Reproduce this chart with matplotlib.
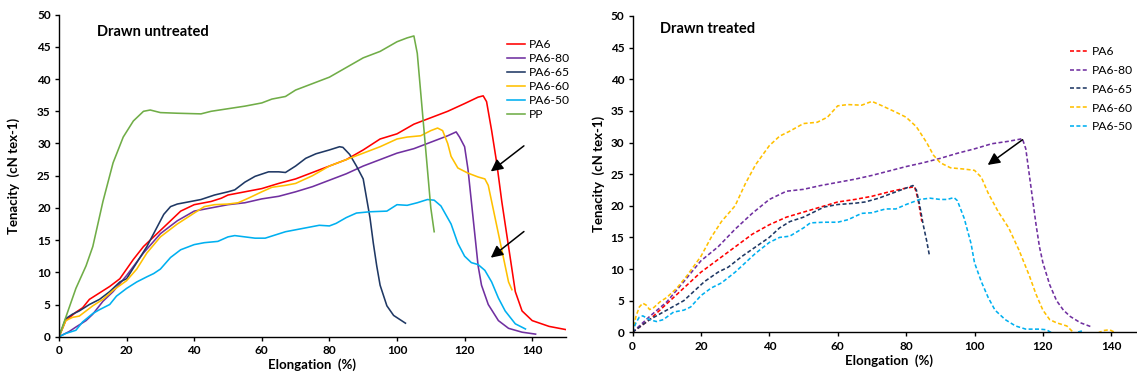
import matplotlib
matplotlib.use('Agg')
import matplotlib.pyplot as plt

plt.rcParams['font.family'] = ['Lato', 'DejaVu Sans']

# ---- Drawn untreated (tenacity vs elongation) ----
pa6_x = [0, 2, 5, 7, 9, 12, 15, 18, 20, 22, 25, 28, 30, 33, 36, 40, 45, 48, 50, 55, 60, 65, 70, 75, 80,
         85, 90, 95, 100, 105, 110, 115, 120, 124, 125.5, 126.5, 128, 129.5, 131, 133, 135, 137, 140, 145, 150]
pa6_y = [0, 2.5, 3.8, 4.5, 5.8, 6.8, 7.8, 9, 10.5, 12, 14, 15.5, 16.5, 18, 19.5, 20.5, 21, 21.5, 22, 22.5, 23,
         23.8, 24.5, 25.5, 26.5, 27.5, 29, 30.7, 31.5, 33, 34, 35, 36.2, 37.2, 37.4, 36.5, 32, 27, 21, 14, 7, 4,
         2.5, 1.6, 1.1]

pa680_x = [0, 3, 5, 8, 10, 13, 16, 20, 25, 30, 35, 40, 45, 50, 55, 60, 65, 70, 75, 80, 85, 90, 95, 100, 105,
           110, 115, 117.5, 118.5, 120, 121, 122, 123, 124, 125, 127, 130, 133, 137, 141]
pa680_y = [0, 0.8, 1.5, 2.5, 3.5, 5.5, 7, 9.5, 13, 16, 18, 19.5, 20, 20.5, 20.8, 21.4, 21.8, 22.5, 23.3, 24.3,
           25.3, 26.5, 27.5, 28.5, 29.2, 30.2, 31.2, 31.8, 31, 29.5, 26, 21, 16, 11, 8, 5, 2.5, 1.3, 0.7, 0.4]

pa665_x = [0, 2, 4, 6, 9, 12, 15, 18, 20, 23, 26, 29, 31, 33, 35, 38, 42, 46, 50, 52, 55, 58, 62, 65, 67, 70,
           73, 76, 80, 83, 84, 86, 88, 90, 91, 92, 93, 94, 95, 97, 99, 102.5]
pa665_y = [0, 2.8, 3.5, 4, 5, 5.8, 7, 8.5, 9, 11.5, 14, 17, 19, 20.2, 20.6, 20.9, 21.3, 22, 22.5, 22.8, 24,
           24.9, 25.6, 25.6, 25.5, 26.5, 27.7, 28.4, 29, 29.5, 29.4, 28.3, 26.5, 24.5, 21.5, 18.5, 14.5, 11, 8,
           4.8, 3.3, 2.1]

pa660_x = [0, 2, 4, 6, 8, 10, 13, 16, 20, 23, 26, 30, 35, 40, 43, 46, 50, 53, 56, 60, 63, 67, 70, 75, 80, 85,
           90, 95, 100, 103, 107, 110, 112, 113.5, 115, 116, 118, 121, 124, 126, 127, 128, 130, 132, 133, 134]
pa660_y = [0, 2.5, 3, 3.2, 4, 4.8, 5.8, 7.2, 8.7, 10.5, 13, 15.5, 17.5, 19.2, 20.2, 20.5, 20.6, 20.8, 21.5,
           22.5, 23.2, 23.5, 23.8, 25, 26.5, 27.5, 28.5, 29.5, 30.7, 31, 31.2, 32, 32.4, 32, 30, 28, 26.2, 25.4,
           24.8, 24.5, 23.5, 21, 16, 11, 8.5, 7.3]

pa650_x = [0, 2, 5, 7, 10, 12, 15, 17, 20, 23, 26, 28, 30, 33, 36, 40, 43, 47, 50, 52, 55, 58, 61, 64, 67, 72,
           77, 80, 82, 85, 88, 92, 97, 100, 103, 106, 109, 111, 113, 116, 118, 120, 122, 124, 126, 128, 130,
           132, 135, 138]
pa650_y = [0, 0.5, 1, 2.3, 3.6, 4.2, 5, 6.3, 7.5, 8.5, 9.3, 9.8, 10.5, 12.3, 13.5, 14.3, 14.6, 14.8, 15.5,
           15.7, 15.5, 15.3, 15.3, 15.8, 16.3, 16.8, 17.3, 17.2, 17.6, 18.5, 19.2, 19.4, 19.5, 20.5, 20.4, 20.8,
           21.3, 21.2, 20.3, 17.5, 14.5, 12.5, 11.5, 11.2, 10.3, 8.5, 6, 4, 2, 1.2]

pp_x = [0, 2, 5, 8, 10, 13, 16, 19, 22, 25, 27, 30, 35, 42, 45, 50, 55, 60, 63, 67, 70, 75, 80, 85, 90, 95,
        100, 103, 105, 106, 107, 108, 109, 110, 111]
pp_y = [0, 3, 7.5, 11, 14, 21, 27, 31, 33.5, 35, 35.2, 34.8, 34.7, 34.6, 35, 35.4, 35.8, 36.3, 36.9, 37.3,
        38.3, 39.3, 40.3, 41.8, 43.3, 44.3, 45.8, 46.4, 46.7, 44, 38, 32, 26, 20, 16.3]

# ---- Drawn treated ----
t_pa6_x = [0, 5, 10, 15, 20, 25, 30, 35, 40, 45, 50, 55, 60, 65, 70, 75, 80, 82.5, 83.5, 84.6]
t_pa6_y = [0, 2, 4.5, 7, 9.5, 11.5, 13.5, 15.5, 17, 18.2, 19, 19.8, 20.6, 21, 21.5, 22.2, 22.8, 23, 21, 17.5]

t_pa680_x = [0, 5, 10, 15, 20, 25, 30, 35, 40, 45, 50, 55, 60, 65, 70, 75, 80, 85, 90, 95, 100, 105, 110, 114,
             115, 116, 117, 118, 119, 120, 122, 124, 126, 128, 131, 134]
t_pa680_y = [0, 2.5, 4.8, 8, 11.3, 13.5, 16.3, 18.8, 21, 22.3, 22.6, 23.2, 23.7, 24.2, 24.8, 25.5, 26.2, 26.8,
             27.5, 28.3, 29, 29.8, 30.2, 30.6, 29, 25, 21, 17, 13.5, 11, 7.5, 5, 3.5, 2.5, 1.5, 0.9]

t_pa665_x = [0, 5, 10, 15, 18, 21, 25, 28, 32, 36, 40, 43, 46, 50, 53, 56, 60, 65, 68, 72, 76, 80, 82, 83, 84,
             85, 86, 86.8]
t_pa665_y = [0, 2, 3.5, 5, 6.5, 8, 9.5, 10.3, 12, 13.5, 15, 16.5, 17.5, 18.2, 19, 19.8, 20.2, 20.4, 20.6, 21.2,
             22, 22.8, 23.2, 22.5, 20, 17, 14.5, 12.2]

t_pa660_x = [0, 1, 2, 3, 4, 5, 6, 8, 10, 13, 16, 20, 23, 26, 30, 33, 36, 40, 43, 46, 50, 54, 57, 60, 63, 67,
             70, 73, 77, 80, 83, 86, 88, 90, 93, 97, 100, 102, 104, 107, 110, 113, 116, 118, 120, 122, 124, 127,
             128.5, 130, 135, 136.5, 138, 139.5, 141]
t_pa660_y = [0, 2.5, 4, 4.6, 4.3, 3.6, 3.8, 4.8, 5.5, 7, 9, 12, 15, 17.5, 20, 23.5, 26.5, 29.5, 31, 31.8, 33,
             33.2, 34, 35.8, 36, 35.9, 36.5, 35.8, 34.8, 34, 32.5, 30, 28, 26.8, 26, 25.8, 25.6, 24.5, 22, 19,
             16.5, 13, 9, 6, 3.5, 2, 1.5, 1, 0.2, -0.5, -0.5, 0, 0.3, 0.4, 0]

t_pa650_x = [0, 1, 2, 3, 4, 5, 7, 9, 12, 15, 17, 20, 23, 26, 30, 33, 36, 40, 43, 46, 50, 52, 56, 60, 63, 67, 70,
             74, 77, 80, 84, 87, 90, 92, 94, 95, 97, 99, 100, 102, 104, 106, 109, 112, 115, 119, 121, 123, 125,
             129, 130, 132]
t_pa650_y = [0, 1.5, 2.4, 2.6, 2.3, 2, 1.7, 2, 3.2, 3.5, 4, 5.8, 7, 7.8, 9.5, 11, 12.5, 14.2, 15, 15.2, 16.5,
             17.3, 17.4, 17.4, 17.8, 18.8, 18.9, 19.5, 19.5, 20.2, 21, 21.2, 21, 21, 21.3, 20.8, 18, 14, 11, 8,
             5.5, 3.5, 2, 1, 0.5, 0.5, 0.4, -0.2, -0.5, -0.2, 0, 0.3]

colors = {'PA6': '#FF0000', 'PA6-80': '#7030A0', 'PA6-65': '#1F3864',
          'PA6-60': '#FFC000', 'PA6-50': '#00B0F0', 'PP': '#70AD47'}

W, H = 1137, 380
fig = plt.figure(figsize=(W / 100, H / 100), dpi=100)


def px_axes(x0, x1, ytop, ybot):
    return fig.add_axes([x0 / W, 1 - ybot / H, (x1 - x0) / W, (ybot - ytop) / H])


def style(ax, ypad):
    ax.set_xlim(0, 150)
    ax.set_ylim(0, 50)
    ax.set_xticks(range(0, 141, 20))
    ax.set_yticks(range(0, 51, 5))
    for s in ['top', 'right']:
        ax.spines[s].set_visible(False)
    for s in ['left', 'bottom']:
        ax.spines[s].set_linewidth(1.0)
    ax.tick_params(direction='out', length=3, width=1, labelsize=8.5, pad=3)
    for lab in ax.get_xticklabels() + ax.get_yticklabels():
        lab.set_fontweight('bold')
    ax.set_xlabel('Elongation  (%)', fontsize=9.5, fontweight='bold', labelpad=2)
    ax.set_ylabel('Tenacity  (cN tex-1)', fontsize=9.5, fontweight='bold', labelpad=ypad)
    ax.patch.set_alpha(0)


lw = 1.15
arrow = dict(arrowstyle='-|>', color='black', lw=1.1, mutation_scale=18)
leg_kw = dict(loc='upper left', bbox_transform=fig.transFigure, frameon=False, fontsize=8.7,
              handlelength=1.5, handletextpad=0.3, borderpad=0, borderaxespad=0)

# left panel
ax1 = px_axes(59, 566, 14.7, 336.7)
style(ax1, 12)
ax1.plot(pa6_x, pa6_y, color=colors['PA6'], lw=lw, label='PA6')
ax1.plot(pa680_x, pa680_y, color=colors['PA6-80'], lw=lw, label='PA6-80')
ax1.plot(pa665_x, pa665_y, color=colors['PA6-65'], lw=lw, label='PA6-65')
ax1.plot(pa660_x, pa660_y, color=colors['PA6-60'], lw=lw, label='PA6-60')
ax1.plot(pa650_x, pa650_y, color=colors['PA6-50'], lw=lw, label='PA6-50')
ax1.plot(pp_x, pp_y, color=colors['PP'], lw=lw, label='PP')
ax1.text(11.3, 47.3, 'Drawn untreated', fontsize=10.5, fontweight='bold', va='center')
ax1.legend(bbox_to_anchor=(507 / W, 1 - 39 / H), labelspacing=0.25, **leg_kw)
ax1.annotate('', xy=(127.1, 25.4), xytext=(138.2, 29.9), arrowprops=arrow)
ax1.annotate('', xy=(127.1, 12.0), xytext=(138.2, 16.6), arrowprops=arrow)

# right panel
ax2 = px_axes(632.5, 1145.5, 16, 332.3)
style(ax2, 4)
dash = (0, (2.5, 1.5))
ax2.plot(t_pa6_x, t_pa6_y, color=colors['PA6'], lw=lw, ls=dash, label='PA6')
ax2.plot(t_pa680_x, t_pa680_y, color=colors['PA6-80'], lw=lw, ls=dash, label='PA6-80')
ax2.plot(t_pa665_x, t_pa665_y, color=colors['PA6-65'], lw=lw, ls=dash, label='PA6-65')
ax2.plot(t_pa660_x, t_pa660_y, color=colors['PA6-60'], lw=lw, ls=dash, label='PA6-60')
ax2.plot(t_pa650_x, t_pa650_y, color=colors['PA6-50'], lw=lw, ls=dash, label='PA6-50')
ax2.text(8.1, 47.9, 'Drawn treated', fontsize=10.5, fontweight='bold', va='center')
ax2.legend(bbox_to_anchor=(1070 / W, 1 - 46 / H), labelspacing=0.65, **leg_kw)
ax2.annotate('', xy=(103.2, 26.2), xytext=(114.7, 30.7), arrowprops=arrow)

fig.savefig('out.png', dpi=100)
